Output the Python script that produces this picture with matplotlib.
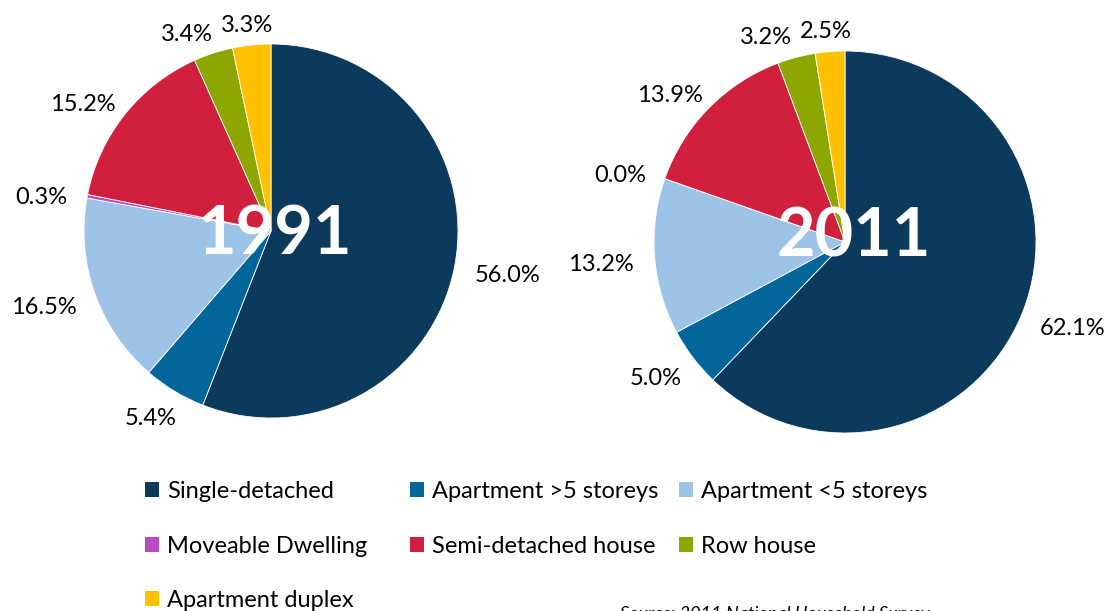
import numpy as np
import matplotlib.pyplot as plt
from matplotlib.patches import Patch

plt.rcParams['font.family'] = ['Lato', 'DejaVu Sans']

categories = ["Single-detached", "Apartment >5 storeys", "Apartment <5 storeys",
              "Moveable Dwelling", "Semi-detached house", "Row house", "Apartment duplex"]
colors = ["#0B3A5C", "#03669B", "#9DC3E6", "#B94BC4", "#D0203E", "#8DA600", "#FFC000"]
share_1991 = [56.0, 5.4, 16.5, 0.3, 15.2, 3.4, 3.3]
share_2011 = [62.1, 5.0, 13.2, 0.0, 13.9, 3.2, 2.5]

W, H = 1111, 611
fig = plt.figure(figsize=(W / 100, H / 100), dpi=100)
renderer = fig.canvas.get_renderer()


def draw_pie(cx, cy, r, values, year, year_pos):
    ax = fig.add_axes([(cx - r) / W, (H - cy - r) / H, 2 * r / W, 2 * r / H])
    wedges, _ = ax.pie(values, colors=colors, startangle=90, counterclock=False,
                       radius=1, wedgeprops=dict(linewidth=0.6, edgecolor='white'))
    ax.set_xlim(-1, 1)
    ax.set_ylim(-1, 1)
    ax.set_aspect('equal')
    ax.axis('off')
    labels = []
    for w, v in zip(wedges, values):
        ang = np.deg2rad((w.theta1 + w.theta2) / 2)
        c, s = np.cos(ang), np.sin(ang)
        t = ax.annotate(f"{v:.1f}%", xy=(1.11 * c, 1.08 * s), xytext=(0, 0),
                        textcoords='offset points', ha='center', va='center',
                        fontsize=17, color='black', annotation_clip=False)
        bb = t.get_window_extent(renderer)
        hw, hh = bb.width * 0.72 / 2, bb.height * 0.72 / 2
        t.xyann = (hw * c, hh * s - 4)
        labels.append((t, c))
    # push apart labels that collide (shift the earlier one sideways)
    for i in range(len(labels) - 2, -1, -1):
        t, c = labels[i]
        b1 = t.get_window_extent(renderer)
        b2 = labels[i + 1][0].get_window_extent(renderer)
        if b1.overlaps(b2):
            if c < 0:
                dx = b1.x1 - b2.x0 + 8
                t.xyann = (t.xyann[0] - dx * 0.72, t.xyann[1])
            else:
                dx = b2.x1 - b1.x0 + 8
                t.xyann = (t.xyann[0] + dx * 0.72, t.xyann[1])
    ax.text(year_pos[0], year_pos[1], year, ha='center', va='center', fontsize=48,
            fontweight='bold', color='white')


draw_pie(271, 231, 187, share_1991, "1991", (0.02, -0.02))
draw_pie(845, 242, 191, share_2011, "2011", (0.046, 0.022))

# legend: three columns placed like the original (row-major order)
col_items = [[0, 3, 6], [1, 4], [2, 5]]
col_x = [145, 410, 679]
for items, x in zip(col_items, col_x):
    handles = [Patch(facecolor=colors[i], edgecolor='none') for i in items]
    labels = [categories[i] for i in items]
    fig.legend(handles, labels, loc='upper left',
               bbox_to_anchor=(x / W, 1 - 481 / H), frameon=False, fontsize=17,
               handlelength=0.6, handleheight=0.6, handletextpad=0.35,
               labelspacing=1.42, borderaxespad=0, borderpad=0)

fig.text(620 / W, 1 - 614 / H, "Source: 2011 National Household Survey",
         fontsize=13, style='italic', ha='left', va='center')

fig.savefig("out.png", dpi=100)
